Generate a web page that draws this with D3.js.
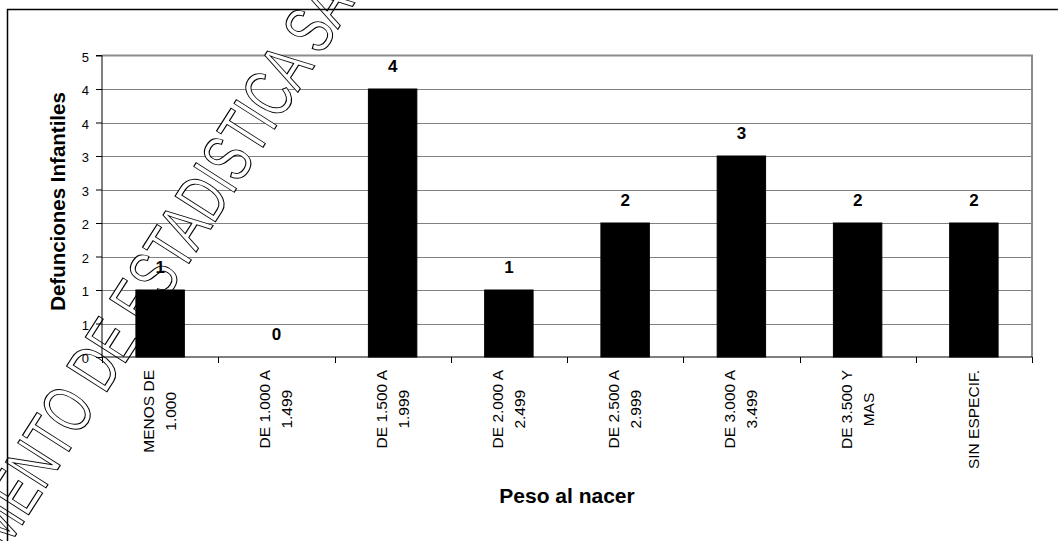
<!DOCTYPE html>
<html>
<head>
<meta charset="utf-8">
<script src="https://cdn.jsdelivr.net/npm/d3@7"></script>
<style>
  html, body { margin: 0; padding: 0; background: #fff; }
  svg { display: block; font-family: Arial, "Liberation Sans", Helvetica, sans-serif; }
</style>
</head>
<body>
<svg id="chart" width="1058" height="541"></svg>
<script>
// ---- data ----
const categories = ["MENOS DE\n1.000", "DE 1.000 A\n1.499", "DE 1.500 A\n1.999", "DE 2.000 A\n2.499",
                    "DE 2.500 A\n2.999", "DE 3.000 A\n3.499", "DE 3.500 Y\nMAS", "SIN ESPECIF."];
const values = [1, 0, 4, 1, 2, 3, 2, 2];
const yTickValues = [0, 0.5, 1, 1.5, 2, 2.5, 3, 3.5, 4, 4.5];
const yTickLabels = ["0", "1", "1", "2", "2", "3", "3", "4", "4", "5"];
const yTitle = "Defunciones Infantiles";
const xTitle = "Peso al nacer";
const watermarkText = "DEPARTAMENTO DE ESTADISTICA SALUD";

const svg = d3.select("#chart");
const W = 1058, H = 541;
const plot = { left: 102, right: 1032, top: 55.5, bottom: 357 };

svg.append("rect").attr("width", W).attr("height", H).attr("fill", "#fff");

const x = d3.scaleBand().domain(categories).range([plot.left, plot.right])
  .paddingInner(1.4 / 2.4).paddingOuter(0.7 / 2.4);
const y = d3.scaleLinear().domain([0, 4.5]).range([plot.bottom, plot.top]);

// gridlines
svg.append("g").selectAll("line").data(yTickValues.filter(v => v > 0 && v < 4.5)).join("line")
  .attr("x1", plot.left).attr("x2", plot.right)
  .attr("y1", d => Math.round(y(d)) + 0.5).attr("y2", d => Math.round(y(d)) + 0.5)
  .attr("stroke", "#808080").attr("stroke-width", 1);

// plot border top/right
svg.append("path")
  .attr("d", `M${plot.left},${y(4.5)}H${plot.right}V${plot.bottom}`)
  .attr("fill", "none").attr("stroke", "#8c8c8c").attr("stroke-width", 2);

// watermark (outlined text)
const wm = svg.append("text")
  .attr("transform", "translate(5,552) rotate(-57.5) scale(1,1.45)")
  .attr("font-size", 48)
  .attr("fill", "#fff").attr("stroke", "#000").attr("stroke-width", 1)
  .attr("vector-effect", "non-scaling-stroke")
  .style("font-family", "Arial, 'Liberation Sans', sans-serif")
  .text(watermarkText);
const pre = wm.node().getSubStringLength(0, 7);
wm.attr("x", -pre);

// bars
svg.append("g").selectAll("rect").data(values).join("rect")
  .attr("x", (d, i) => x(categories[i]))
  .attr("width", x.bandwidth())
  .attr("y", d => y(d))
  .attr("height", d => y(0) - y(d))
  .attr("fill", "#000").attr("stroke", "#000").attr("stroke-width", 1);

// y axis
const yAxis = d3.axisLeft(y).tickValues(yTickValues)
  .tickFormat((d, i) => yTickLabels[i]).tickSize(6).tickPadding(7);
const gy = svg.append("g").attr("transform", `translate(${plot.left},0)`).call(yAxis);
gy.select(".domain").attr("stroke", "#000").attr("d", `M-6,${y(4.5)}H0V${plot.bottom}`);
gy.selectAll(".tick line").attr("stroke", "#000");
gy.selectAll(".tick text").attr("font-size", 13).attr("fill", "#000")
  .attr("font-family", "Arial, 'Liberation Sans', sans-serif").attr("dy", "0.45em");

// x axis (ticks at category boundaries)
const boundaries = d3.range(categories.length + 1).map(i => plot.left + i * x.step());
svg.append("line").attr("x1", plot.left).attr("x2", plot.right)
  .attr("y1", plot.bottom).attr("y2", plot.bottom).attr("stroke", "#000");
svg.append("g").selectAll("line").data(boundaries).join("line")
  .attr("x1", d => Math.round(d) + 0.5).attr("x2", d => Math.round(d) + 0.5)
  .attr("y1", plot.bottom).attr("y2", plot.bottom + 6).attr("stroke", "#000");

// category labels (rotated, multi-line, centered lines, block top at y=370)
const lineGap = 22;
categories.forEach((c, i) => {
  const lines = c.split("\n");
  const cx = x(c) + x.bandwidth() / 2 - 1;
  const t = svg.append("text").attr("font-size", 15.5).attr("fill", "#000")
    .attr("text-anchor", "middle").attr("dominant-baseline", "central");
  const spans = lines.map((ln, j) => t.append("tspan").text(ln));
  const maxW = d3.max(spans, s => s.node().getComputedTextLength());
  spans.forEach((s, j) => {
    const off = (j - (lines.length - 1) / 2) * lineGap;
    s.attr("x", -(370 + maxW / 2)).attr("y", cx + off);
  });
  t.attr("transform", "rotate(-90)");
});

// data labels
svg.append("g").selectAll("text").data(values).join("text")
  .attr("x", (d, i) => x(categories[i]) + x.bandwidth() / 2)
  .attr("y", d => y(d) - 17)
  .attr("text-anchor", "middle").attr("font-size", 17).attr("font-weight", "bold")
  .attr("fill", "#000").text(d => d);

// axis titles
svg.append("text").attr("x", (plot.left + plot.right) / 2).attr("y", 503)
  .attr("text-anchor", "middle").attr("font-size", 21).attr("font-weight", "bold")
  .text(xTitle);
svg.append("text").attr("transform", "translate(65,201.5) rotate(-90)")
  .attr("text-anchor", "middle").attr("font-size", 20.5).attr("font-weight", "bold")
  .text(yTitle);

// outer chart border
svg.append("rect").attr("x", 7.5).attr("y", 9.5).attr("width", 1200).attr("height", 700)
  .attr("fill", "none").attr("stroke", "#000").attr("stroke-width", 1.5);
</script>
</body>
</html>
